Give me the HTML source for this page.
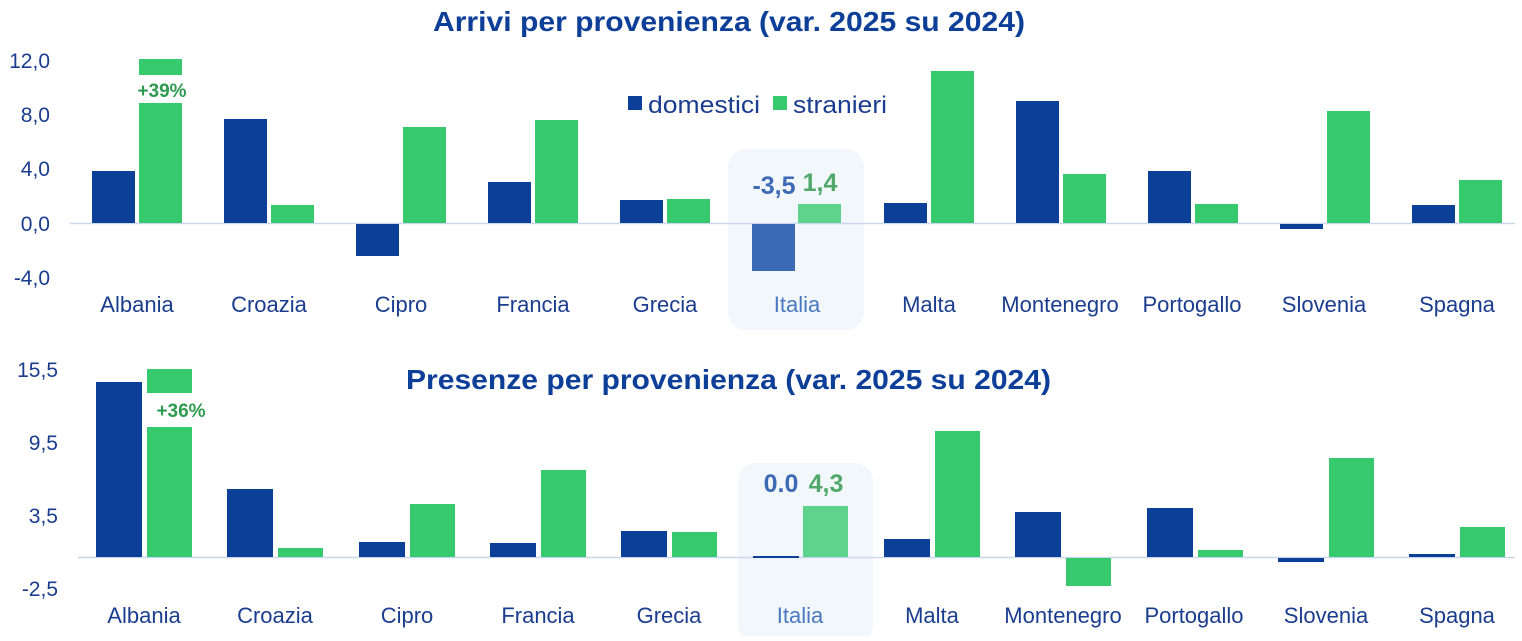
<!DOCTYPE html>
<html><head><meta charset="utf-8"><style>
body{margin:0;background:#fff;width:1522px;height:636px;overflow:hidden}
svg text{font-family:"Liberation Sans",Arial,sans-serif}
</style></head><body>
<svg width="1522" height="636" xmlns="http://www.w3.org/2000/svg">
<rect x="728" y="149" width="136" height="181" rx="18" fill="#f2f7fb"/>
<rect x="738" y="463" width="135" height="180" rx="18" fill="#f2f7fb"/>
<text x="433" y="31" font-size="28" font-weight="bold" fill="#0d3f99" textLength="592" lengthAdjust="spacingAndGlyphs">Arrivi per provenienza (var. 2025 su 2024)</text>
<text x="406" y="389" font-size="28" font-weight="bold" fill="#0d3f99" textLength="645" lengthAdjust="spacingAndGlyphs">Presenze per provenienza (var. 2025 su 2024)</text>
<g font-size="21" fill="#1a3d8f" text-anchor="end">
<text x="50" y="68">12,0</text><text x="50" y="122">8,0</text><text x="50" y="176">4,0</text><text x="50" y="231">0,0</text><text x="50" y="285">-4,0</text>
<text x="58" y="377">15,5</text><text x="58" y="450">9,5</text><text x="58" y="523">3,5</text><text x="58" y="596">-2,5</text>
</g>
<line x1="70" y1="223.5" x2="1515" y2="223.5" stroke="#c9d7ee" stroke-width="1.5"/>
<line x1="78" y1="557.5" x2="1515" y2="557.5" stroke="#c9d7ee" stroke-width="1.5"/>
<rect x="628" y="96" width="14" height="14" fill="#0b3f98"/>
<text x="648" y="113" font-size="24" fill="#1a3d8f" textLength="112" lengthAdjust="spacingAndGlyphs">domestici</text>
<rect x="773" y="96" width="14" height="14" fill="#36c96d"/>
<text x="793" y="113" font-size="24" fill="#1a3d8f" textLength="94" lengthAdjust="spacingAndGlyphs">stranieri</text>
<g fill="#0b3f98">
<rect x="92" y="171" width="43" height="52"/>
<rect x="224" y="119" width="43" height="104"/>
<rect x="356" y="224" width="43" height="32"/>
<rect x="488" y="182" width="43" height="41"/>
<rect x="620" y="200" width="43" height="23"/>
<rect x="884" y="203" width="43" height="20"/>
<rect x="1016" y="101" width="43" height="122"/>
<rect x="1148" y="171" width="43" height="52"/>
<rect x="1280" y="224" width="43" height="5"/>
<rect x="1412" y="205" width="43" height="18"/>
</g>
<g fill="#36c96d">
<rect x="139" y="59" width="43" height="16"/>
<rect x="139" y="103" width="43" height="120"/>
<rect x="271" y="205" width="43" height="18"/>
<rect x="403" y="127" width="43" height="96"/>
<rect x="535" y="120" width="43" height="103"/>
<rect x="667" y="199" width="43" height="24"/>
<rect x="931" y="71" width="43" height="152"/>
<rect x="1063" y="174" width="43" height="49"/>
<rect x="1195" y="204" width="43" height="19"/>
<rect x="1327" y="111" width="43" height="112"/>
<rect x="1459" y="180" width="43" height="43"/>
</g>
<rect x="752" y="224" width="43" height="47" fill="#3d6ab5"/>
<rect x="798" y="204" width="43" height="19" fill="#5dd38c"/>
<text x="162" y="97" font-size="19" font-weight="bold" fill="#2e9b50" text-anchor="middle">+39%</text>
<text x="774" y="194" font-size="25" font-weight="bold" fill="#3d6ab5" text-anchor="middle">-3,5</text>
<text x="820" y="191" font-size="25" font-weight="bold" fill="#4fa86a" text-anchor="middle">1,4</text>
<g fill="#0b3f98">
<rect x="96" y="382" width="46" height="175"/>
<rect x="227" y="489" width="46" height="68"/>
<rect x="359" y="542" width="46" height="15"/>
<rect x="490" y="543" width="46" height="14"/>
<rect x="621" y="531" width="46" height="26"/>
<rect x="753" y="556" width="46" height="2"/>
<rect x="884" y="539" width="46" height="18"/>
<rect x="1015" y="512" width="46" height="45"/>
<rect x="1147" y="508" width="46" height="49"/>
<rect x="1278" y="558" width="46" height="4"/>
<rect x="1409" y="554" width="46" height="3"/>
</g>
<g fill="#36c96d">
<rect x="147" y="369" width="45" height="24"/>
<rect x="147" y="427" width="45" height="130"/>
<rect x="278" y="548" width="45" height="9"/>
<rect x="410" y="504" width="45" height="53"/>
<rect x="541" y="470" width="45" height="87"/>
<rect x="672" y="532" width="45" height="25"/>
<rect x="935" y="431" width="45" height="126"/>
<rect x="1066" y="558" width="45" height="28"/>
<rect x="1198" y="550" width="45" height="7"/>
<rect x="1329" y="458" width="45" height="99"/>
<rect x="1460" y="527" width="45" height="30"/>
</g>
<rect x="803" y="506" width="45" height="51" fill="#5dd38c"/>
<text x="181" y="417" font-size="19" font-weight="bold" fill="#2e9b50" text-anchor="middle">+36%</text>
<text x="781" y="492" font-size="25" font-weight="bold" fill="#3d6ab5" text-anchor="middle">0.0</text>
<text x="826" y="492" font-size="25" font-weight="bold" fill="#4fa86a" text-anchor="middle">4,3</text>
<g font-size="22" fill="#1a3d8f" text-anchor="middle">
<text x="137" y="312">Albania</text><text x="269" y="312">Croazia</text><text x="401" y="312">Cipro</text><text x="533" y="312">Francia</text><text x="665" y="312">Grecia</text><text x="797" y="312" fill="#4a78c0">Italia</text><text x="929" y="312">Malta</text><text x="1060" y="312">Montenegro</text><text x="1192" y="312">Portogallo</text><text x="1324" y="312">Slovenia</text><text x="1457" y="312">Spagna</text>
<text x="144" y="623">Albania</text><text x="275" y="623">Croazia</text><text x="407" y="623">Cipro</text><text x="538" y="623">Francia</text><text x="669" y="623">Grecia</text><text x="800" y="623" fill="#4a78c0">Italia</text><text x="932" y="623">Malta</text><text x="1063" y="623">Montenegro</text><text x="1194" y="623">Portogallo</text><text x="1326" y="623">Slovenia</text><text x="1457" y="623">Spagna</text>
</g>
</svg>
</body></html>
